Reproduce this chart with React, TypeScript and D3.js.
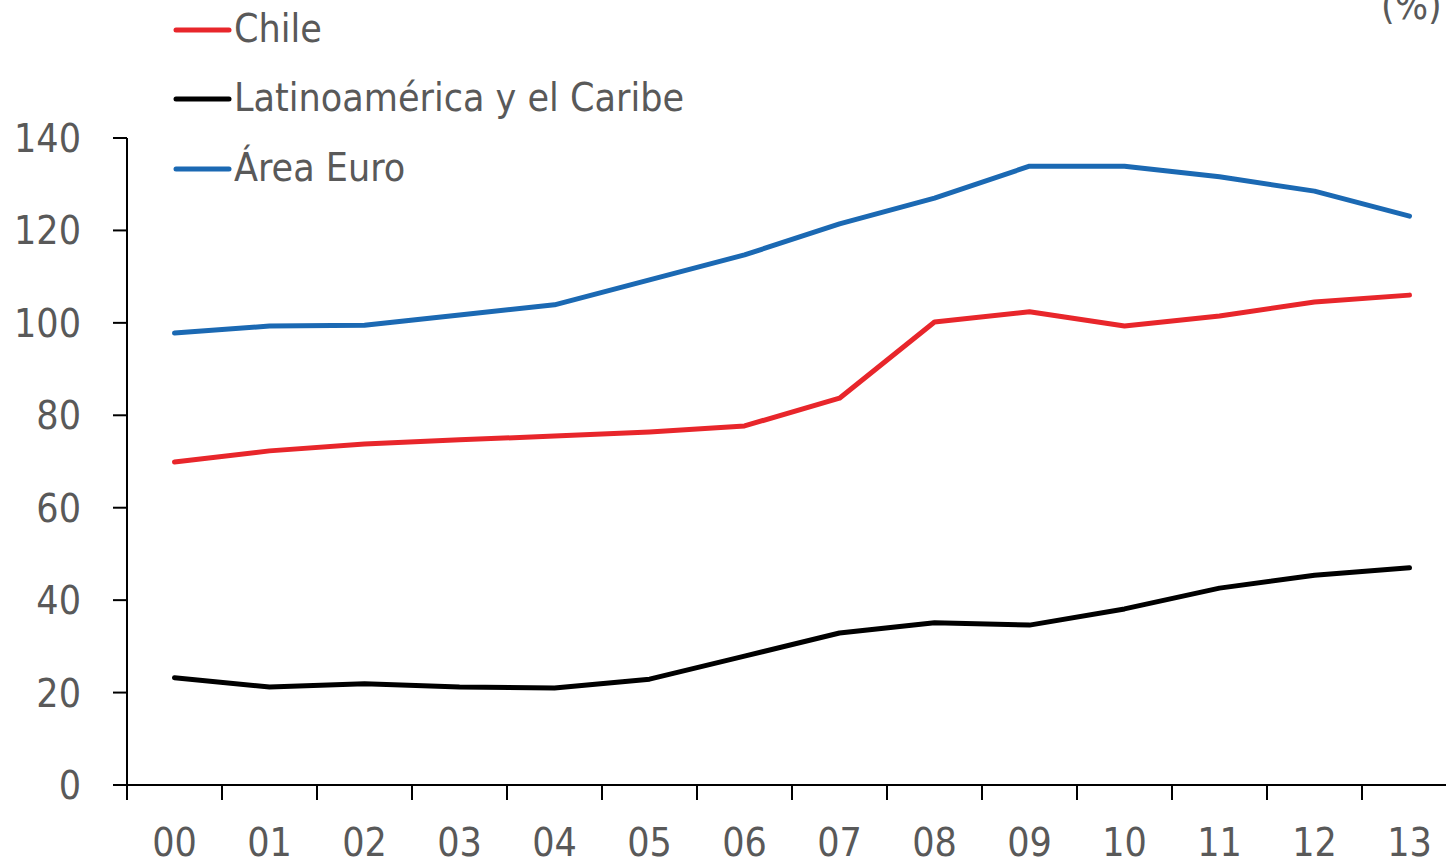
import React, { useEffect, useRef } from "react";
import * as d3 from "d3";

const years = ["00","01","02","03","04","05","06","07","08","09","10","11","12","13"];
const chile = [69.9,72.3,73.8,74.7,75.5,76.4,77.7,83.7,100.2,102.4,99.3,101.5,104.5,106.0];
const latam = [23.2,21.2,21.9,21.2,21.0,22.9,27.9,32.9,35.1,34.6,38.1,42.6,45.4,47.0];
const euro = [97.8,99.3,99.5,101.7,103.9,109.3,114.7,121.4,127.0,133.9,133.9,131.6,128.5,123.1];
const yTicks = [0,20,40,60,80,100,120,140];
const seriesNames = ["Chile","Latinoamérica y el Caribe","Área Euro"];
const seriesColors = ["#E8262B","#000000","#1B69B3"];

const FONT = "'DejaVu Sans Condensed', 'Liberation Sans Narrow', sans-serif";
const TXT = "#595959";
const FS = 39;

export default function App() {
  const ref = useRef<SVGSVGElement>(null);
  useEffect(() => {
    const svg = d3.select(ref.current);
    svg.selectAll("*").remove();
    const W = 1446;
    const x0 = 127, step = 95;
    const x = d3.scaleBand<string>().domain(years).range([x0, x0 + step * years.length]);
    const y = d3.scaleLinear().domain([0, 140]).range([785, 138]);

    const g = svg.append("g");
    g.append("line").attr("x1", x0).attr("x2", W).attr("y1", y(0)).attr("y2", y(0))
      .attr("stroke", "#000").attr("stroke-width", 2);
    g.append("line").attr("x1", x0).attr("x2", x0).attr("y1", y(0)).attr("y2", y(140))
      .attr("stroke", "#000").attr("stroke-width", 2);
    yTicks.forEach(t => {
      g.append("line").attr("x1", x0 - 14).attr("x2", x0).attr("y1", y(t)).attr("y2", y(t))
        .attr("stroke", "#000").attr("stroke-width", 2);
      g.append("text").attr("x", 81).attr("y", y(t)).attr("dy", "0.36em")
        .attr("text-anchor", "end").attr("font-family", FONT).attr("font-size", FS)
        .attr("fill", TXT).text(String(t));
    });
    years.forEach(yr => {
      const bx = x(yr)!;
      g.append("line").attr("x1", bx).attr("x2", bx).attr("y1", y(0)).attr("y2", y(0) + 15)
        .attr("stroke", "#000").attr("stroke-width", 2);
      g.append("text").attr("x", bx + x.bandwidth() / 2).attr("y", 856)
        .attr("text-anchor", "middle").attr("font-family", FONT).attr("font-size", FS)
        .attr("fill", TXT).text(yr);
    });

    const line = d3.line<number>()
      .x((_, i) => x(years[i])! + x.bandwidth() / 2)
      .y(d => y(d));
    [chile, latam, euro].forEach((s, i) => {
      svg.append("path").attr("d", line(s)!).attr("fill", "none")
        .attr("stroke", seriesColors[i]).attr("stroke-width", 5)
        .attr("stroke-linejoin", "round").attr("stroke-linecap", "round");
    });

    const legY = [30, 99, 169];
    seriesNames.forEach((n, i) => {
      svg.append("line").attr("x1", 176).attr("x2", 229).attr("y1", legY[i]).attr("y2", legY[i])
        .attr("stroke", seriesColors[i]).attr("stroke-width", 5).attr("stroke-linecap", "round");
      svg.append("text").attr("x", 234).attr("y", legY[i] + 12)
        .attr("font-family", FONT).attr("font-size", FS).attr("fill", TXT).text(n);
    });

    svg.append("text").attr("x", 1381).attr("y", 19)
      .attr("font-family", FONT).attr("font-size", FS).attr("fill", TXT).text("(%)");
  }, []);
  return (
    <svg ref={ref} width={1446} height={863}
      style={{ position: "absolute", left: 0, top: 0, background: "#fff", overflow: "hidden" }} />
  );
}
